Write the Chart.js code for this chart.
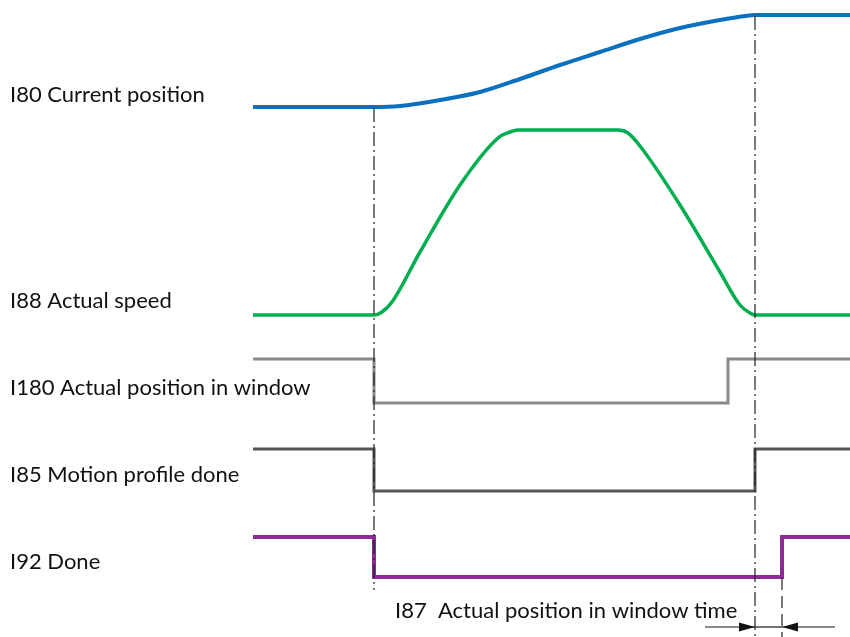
<!DOCTYPE html>
<html>
<head>
<meta charset="utf-8">
<script src="https://cdn.jsdelivr.net/npm/chart.js@4/dist/chart.umd.min.js"></script>
<style>
  html, body { margin:0; padding:0; background:#fff; }
  canvas { display:block; }
</style>
</head>
<body>
<canvas id="timing" width="850" height="637"></canvas>
<script>
// timing diagram — time runs left to right, levels are in diagram units (0 = top)
const signalLabels = ['I80 Current position','I88 Actual speed','I180 Actual position in window','I85 Motion profile done','I92 Done'];
const labelLevels = [95, 301, 388, 475, 562];
const windowLabel = 'I87  Actual position in window time';

const posT = [253, 374, 400, 440, 480, 520, 560, 600, 640, 680, 720, 745, 755, 850];
const posV = [107, 107, 106, 100, 92, 79, 65, 52, 39, 28, 20, 16, 15, 15];

const spdT = [253, 374, 382, 392, 420, 460, 498, 510, 518, 618, 628, 640, 680, 720, 740, 750, 755, 850];
const spdV = [315, 315, 312, 302, 252, 185, 138, 132, 130, 130, 133, 146, 205, 272, 305, 313, 315, 315];

const winT = [253, 374, 374, 728, 728, 850];
const winV = [359, 359, 403, 403, 359, 359];

const doneProfT = [253, 374, 374, 755, 755, 850];
const doneProfV = [449, 449, 491, 491, 449, 449];

const doneT = [253, 374, 374, 782, 782, 850];
const doneV = [537, 537, 577, 577, 537, 537];

const startT = 374, endT = 755, doneAt = 782;
const arrowLevel = 627;

const pts = (ts, vs) => ts.map((t,i)=> ({ x:t, y:vs[i] }));

const textPlugin = {
  id:'texts',
  afterDatasetsDraw(chart){
    const { ctx, scales:{ x, y } } = chart;
    ctx.save();
    ctx.fillStyle = '#111';
    ctx.font = '22px Lato, "Open Sans", sans-serif';
    ctx.textBaseline = 'middle';
    signalLabels.forEach((s,i)=> ctx.fillText(s, 10, y.getPixelForValue(labelLevels[i])));
    ctx.fillText(windowLabel, 395, y.getPixelForValue(611));
    // arrow heads
    const ay = y.getPixelForValue(arrowLevel);
    const head = (tip, dir)=>{
      const px = x.getPixelForValue(tip);
      ctx.beginPath();
      ctx.moveTo(px, ay);
      ctx.lineTo(px - dir*16, ay - 4.5);
      ctx.lineTo(px - dir*16, ay + 4.5);
      ctx.closePath();
      ctx.fill();
    };
    head(endT, 1);
    head(doneAt, -1);
    ctx.restore();
  }
};

const solid = (data, color, w, extra)=> Object.assign({
  data, borderColor:color, borderWidth:w, pointRadius:0, fill:false, tension:0, borderCapStyle:'butt', borderJoinStyle:'miter'
}, extra||{});

const guide = (data, dash)=> ({ data, borderColor:'#222', borderWidth:1.2, pointRadius:0, fill:false, borderDash:dash, tension:0 });

new Chart(document.getElementById('timing').getContext('2d'), {
  type:'line',
  data:{ datasets:[
    guide(pts([startT,startT],[108,590]), [14,4,2,4]),
    guide(pts([endT,endT],[16,637]), [14,4,2,4]),
    guide(pts([doneAt,doneAt],[578,637]), [12,6]),
    { data:pts([705,endT],[arrowLevel,arrowLevel]), borderColor:'#111', borderWidth:1.2, pointRadius:0 },
    { data:pts([endT,doneAt],[arrowLevel,arrowLevel]), borderColor:'#111', borderWidth:1.2, pointRadius:0 },
    { data:pts([doneAt,835],[arrowLevel,arrowLevel]), borderColor:'#111', borderWidth:1.2, pointRadius:0 },
    solid(pts(posT,posV), '#0b70bd', 4, { cubicInterpolationMode:'monotone' }),
    solid(pts(spdT,spdV), '#00ae50', 3.5, { cubicInterpolationMode:'monotone' }),
    solid(pts(winT,winV), '#8a8a8a', 3),
    solid(pts(doneProfT,doneProfV), '#555555', 3),
    solid(pts(doneT,doneV), '#8e2a96', 4)
  ]},
  options:{
    responsive:false, animation:false, devicePixelRatio:1,
    layout:{ padding:0 },
    plugins:{ legend:{ display:false }, tooltip:{ enabled:false } },
    scales:{
      x:{ type:'linear', min:0, max:850, display:false },
      y:{ type:'linear', min:0, max:637, reverse:true, display:false }
    }
  },
  plugins:[textPlugin]
});
</script>
</body>
</html>
